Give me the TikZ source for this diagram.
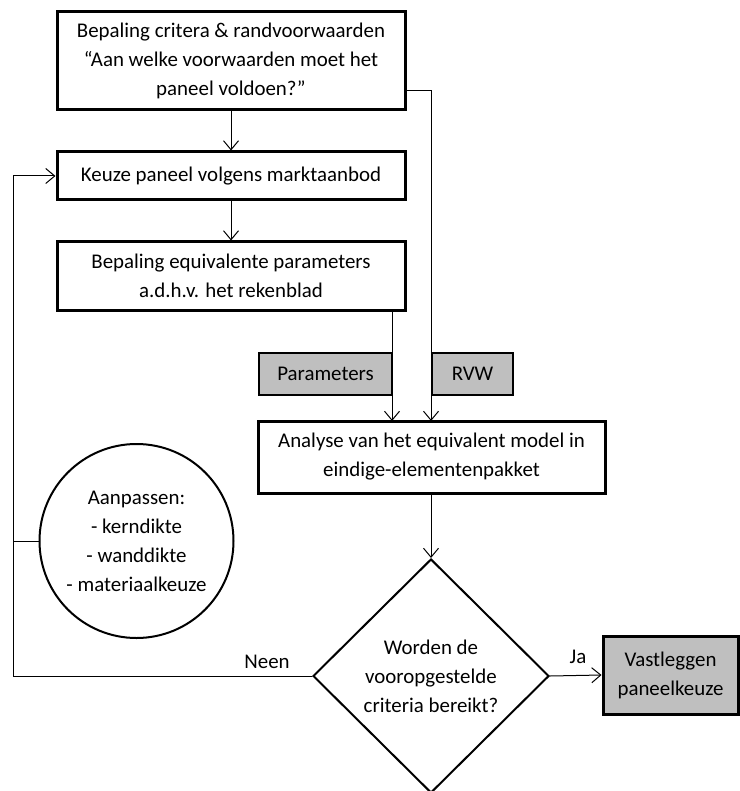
\documentclass[tikz,border=0pt]{standalone}
\usepackage{fontspec}
\setmainfont{Carlito}
\usetikzlibrary{arrows.meta,shapes.geometric}
\begin{document}
\begin{tikzpicture}[x=1pt,y=-1pt,
  every node/.style={font=\fontsize{20.9}{29}\selectfont, align=center, inner sep=0pt},
  mainbox/.style={draw, line width=3pt, rectangle},
  graybox/.style={draw, line width=1.2pt, fill=gray!50, rectangle},
  conn/.style={line width=1pt},
  arr/.style={conn, -{Straight Barb[length=9pt,width=15pt,line width=1pt]}}
]
\useasboundingbox (0,0) rectangle (739,791);
\node[mainbox, minimum width=348pt, minimum height=98pt] (top) at (231,61)
  {Bepaling critera \& randvoorwaarden\\“Aan welke voorwaarden moet het\\paneel voldoen?”};
\node[mainbox, minimum width=348pt, minimum height=48pt] (keuze) at (231,176)
  {Keuze paneel volgens marktaanbod};
\node[mainbox, minimum width=348pt, minimum height=68pt] (bep) at (231,276)
  {Bepaling equivalente parameters\\a.d.h.v. het rekenblad};
\node[graybox, minimum width=133pt, minimum height=42pt] (par) at (325.5,374) {Parameters};
\node[graybox, minimum width=81pt, minimum height=42pt] (rvw) at (472.5,374) {RVW};
\node[mainbox, minimum width=347pt, minimum height=72pt] (ana) at (431.5,457)
  {Analyse van het equivalent model in\\eindige-elementenpakket};
\node[draw, line width=2pt, circle, minimum size=194pt] (aan) at (136.5,541)
  {Aanpassen:\\- kerndikte\\- wanddikte\\- materiaalkeuze};
\node[draw, line width=2pt, diamond, minimum width=236pt, minimum height=234pt] (dia) at (431,676)
  {Worden de\\vooropgestelde\\criteria bereikt?};
\node[graybox, line width=3pt, minimum width=135pt, minimum height=78pt] (vast) at (670.5,675)
  {Vastleggen\\paneelkeuze};
\node (neen) at (267,662) {Neen};
\node (ja) at (578,657) {Ja};
% connector coordinates
\coordinate (topout) at (405,91);
\coordinate (rvwcorner) at (431,91);
\coordinate (rvwin) at (431,421);
\coordinate (bepout) at (392,310);
\coordinate (parin) at (392,421);
\coordinate (loopbot) at (13,676);
\coordinate (looptop) at (13,176);
\coordinate (circjoin) at (13,541);
% connectors
\draw[arr] (top.south) -- (keuze.north);
\draw[arr] (keuze.south) -- (bep.north);
\draw[arr] (topout) -- (rvwcorner) -- (rvwin);
\draw[arr] (bepout) -- (parin);
\draw[arr] (ana.south -| dia.north) -- (dia.north);
\draw[arr] (dia.west) -- (loopbot) -- (looptop) -- (keuze.west);
\draw[conn] (aan.west) -- (circjoin);
\draw[arr] (dia.east) -- (vast.west);
\end{tikzpicture}
\end{document}
